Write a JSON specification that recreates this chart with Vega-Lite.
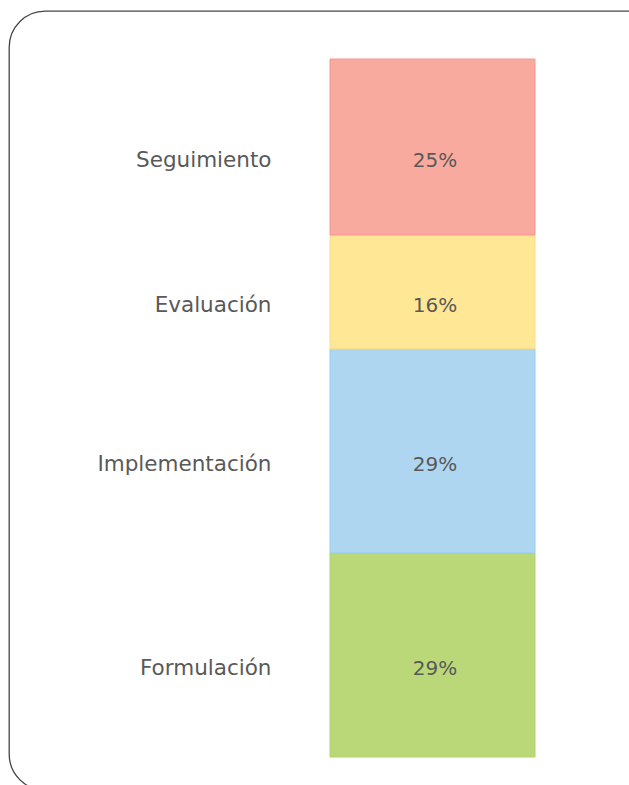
{
  "$schema": "https://vega.github.io/schema/vega-lite/v6.json",
  "width": 700,
  "height": 779,
  "autosize": {"type": "none"},
  "padding": {"left": 9, "top": 11, "right": 0, "bottom": 0},
  "background": "#ffffff",
  "config": {
    "view": {"stroke": "#454545", "strokeWidth": 1.3, "cornerRadius": 36, "fill": "#ffffff"}
  },
  "data": {
    "values": [
      {"etapa": "Formulación", "valor": 0.2923, "orden": 1, "barra": "Total"},
      {"etapa": "Implementación", "valor": 0.2923, "orden": 2, "barra": "Total"},
      {"etapa": "Evaluación", "valor": 0.1633, "orden": 3, "barra": "Total"},
      {"etapa": "Seguimiento", "valor": 0.2521, "orden": 4, "barra": "Total"}
    ]
  },
  "transform": [
    {"stack": "valor", "groupby": ["barra"], "sort": [{"field": "orden"}], "as": ["v0", "v1"]},
    {"calculate": "(datum.v0 + datum.v1) / 2", "as": "medio"}
  ],
  "layer": [
    {
      "mark": {"type": "bar", "strokeWidth": 1},
      "encoding": {
        "x": {"field": "barra", "type": "nominal", "axis": null, "scale": {"range": [321, 526], "paddingInner": 0, "paddingOuter": 0}},
        "y": {"field": "v0", "type": "quantitative", "axis": null, "scale": {"domain": [-0.04728, 1.06877], "nice": false, "zero": false}},
        "y2": {"field": "v1"},
        "fill": {"field": "etapa", "type": "nominal", "legend": null, "scale": {"domain": ["Seguimiento", "Evaluación", "Implementación", "Formulación"], "range": ["#F9AA9E", "#FFE796", "#AED6F1", "#BBD879"]}},
        "stroke": {"field": "etapa", "type": "nominal", "legend": null, "scale": {"domain": ["Seguimiento", "Evaluación", "Implementación", "Formulación"], "range": ["#F4968E", "#FADE86", "#96CDEF", "#AFD36C"]}}
      }
    },
    {
      "mark": {"type": "text", "font": "DejaVu Sans", "fontSize": 20, "color": "#595959", "align": "center", "baseline": "middle", "dx": 2.5, "dy": 14},
      "encoding": {
        "x": {"field": "barra", "type": "nominal", "axis": null},
        "y": {"field": "medio", "type": "quantitative", "axis": null},
        "text": {"field": "valor", "type": "quantitative", "format": ".0%"}
      }
    },
    {
      "mark": {"type": "text", "font": "DejaVu Sans", "fontSize": 21.5, "color": "#595959", "align": "right", "baseline": "middle", "dx": -161, "dy": 14},
      "encoding": {
        "x": {"field": "barra", "type": "nominal", "axis": null},
        "y": {"field": "medio", "type": "quantitative", "axis": null},
        "text": {"field": "etapa", "type": "nominal"}
      }
    }
  ]
}
